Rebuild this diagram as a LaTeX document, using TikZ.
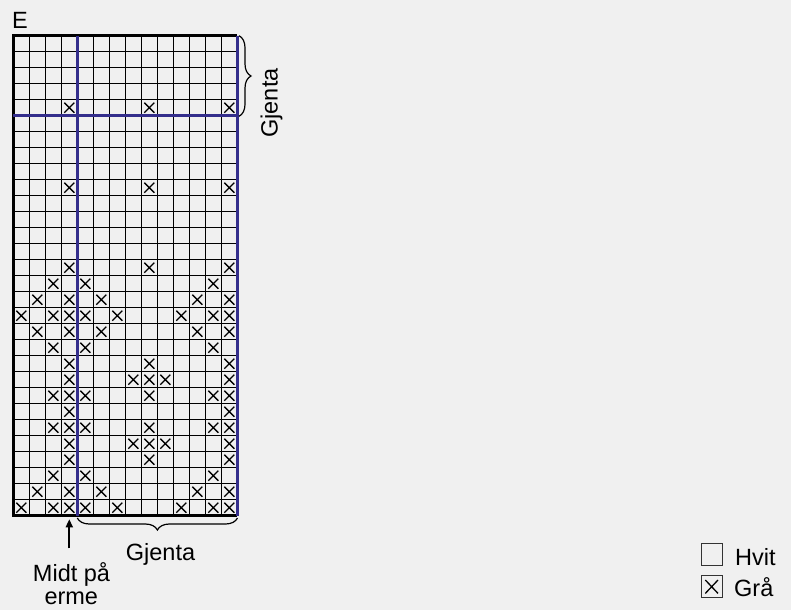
\documentclass[tikz,border=0pt]{standalone}
\usepackage{fontspec}
\setmainfont{Liberation Sans}
\usetikzlibrary{decorations.pathreplacing,arrows.meta}
\definecolor{bg}{RGB}{240,240,240}
\definecolor{navy}{RGB}{52,46,140}
\tikzset{
  gridline/.style={line width=1pt,black},
  frame/.style={line width=3pt,black},
  repline/.style={line width=2.8pt,navy},
  xmark/.style={line width=1.3pt,black},
  lbl/.style={font=\fontsize{23.5}{27}\selectfont,inner sep=0pt},
  bracestyle/.style={decorate,decoration={brace,amplitude=12pt},line width=1.2pt},
  legbox/.style={line width=1pt,draw=black!80}
}
\begin{document}
\begin{tikzpicture}[x=1pt,y=-1pt]
\useasboundingbox[fill=bg] (0,0) rectangle (791,610);
\def\xo{13.3}\def\yo{35.7}\def\cs{16}
% grid
\foreach \i in {0,...,14} \draw[gridline] (\xo+\i*\cs,\yo) -- (\xo+\i*\cs,\yo+30*\cs);
\foreach \j in {0,...,30} \draw[gridline] (\xo,\yo+\j*\cs) -- (\xo+14*\cs,\yo+\j*\cs);
% marks: row (from bottom) / columns
\foreach \r/\cols in {1/{1,3,4,5,7,11,13,14},2/{2,4,6,12,14},3/{3,5,13},4/{4,9,14},5/{4,8,9,10,14},6/{3,4,5,9,13,14},7/{4,14},8/{3,4,5,9,13,14},9/{4,8,9,10,14},10/{4,9,14},11/{3,5,13},12/{2,4,6,12,14},13/{1,3,4,5,7,11,13,14},14/{2,4,6,12,14},15/{3,5,13},16/{4,9,14},21/{4,9,14},26/{4,9,14}}{
  \foreach \c in \cols {
    \pgfmathsetmacro{\cx}{\xo+(\c-0.5)*\cs}
    \pgfmathsetmacro{\cy}{\yo+30*\cs-(\r-0.5)*\cs}
    \draw[xmark] (\cx-5,\cy-5) -- (\cx+5,\cy+5) (\cx-5,\cy+5) -- (\cx+5,\cy-5);
  }
}
% frame
\draw[frame] (\xo+14*\cs,\yo) -- (\xo,\yo) -- (\xo,\yo+30*\cs) -- (\xo+14*\cs,\yo+30*\cs);
% repeat lines
\draw[repline] (\xo,\yo+5*\cs) -- (\xo+14*\cs,\yo+5*\cs);
\draw[repline] (\xo+4*\cs,\yo) -- (\xo+4*\cs,\yo+30*\cs);
\draw[repline] (\xo+14*\cs,\yo) -- (\xo+14*\cs,\yo+30*\cs);
% braces
\coordinate (rbT) at (239,35.7);
\coordinate (rbB) at (239,116.3);
\draw[bracestyle] (rbT) -- (rbB);
\coordinate (bbR) at (237.5,518);
\coordinate (bbL) at (77.3,518);
\draw[bracestyle] (bbR) -- (bbL);
% labels
\node[lbl,anchor=base west] (E) at (12,28.3) {E};
\node[lbl,anchor=base,rotate=90] (gr) at (277.5,103) {Gjenta};
\node[lbl,anchor=base] (gb) at (160.5,560.7) {Gjenta};
\node[lbl,anchor=base] (m1) at (71.5,581) {Midt på};
\node[lbl,anchor=base] (m2) at (71.3,604) {erme};
\coordinate (arrTop) at (69.3,519.3);
\coordinate (arrBot) at (69.3,548.3);
\draw[line width=1.8pt,-{Triangle[length=8pt,width=7pt]}] (arrBot) -- (arrTop);
% legend
\draw[legbox] (701,543.3) rectangle (722.3,565);
\draw[legbox] (701,575.7) rectangle (722.3,597.7);
\draw[xmark] (705.3,580) -- (718,593.4) (705.3,593.4) -- (718,580);
\node[lbl,anchor=base west] (hv) at (735,565) {Hvit};
\node[lbl,anchor=base west] (gra) at (734,596.7) {Grå};
\end{tikzpicture}
\end{document}
